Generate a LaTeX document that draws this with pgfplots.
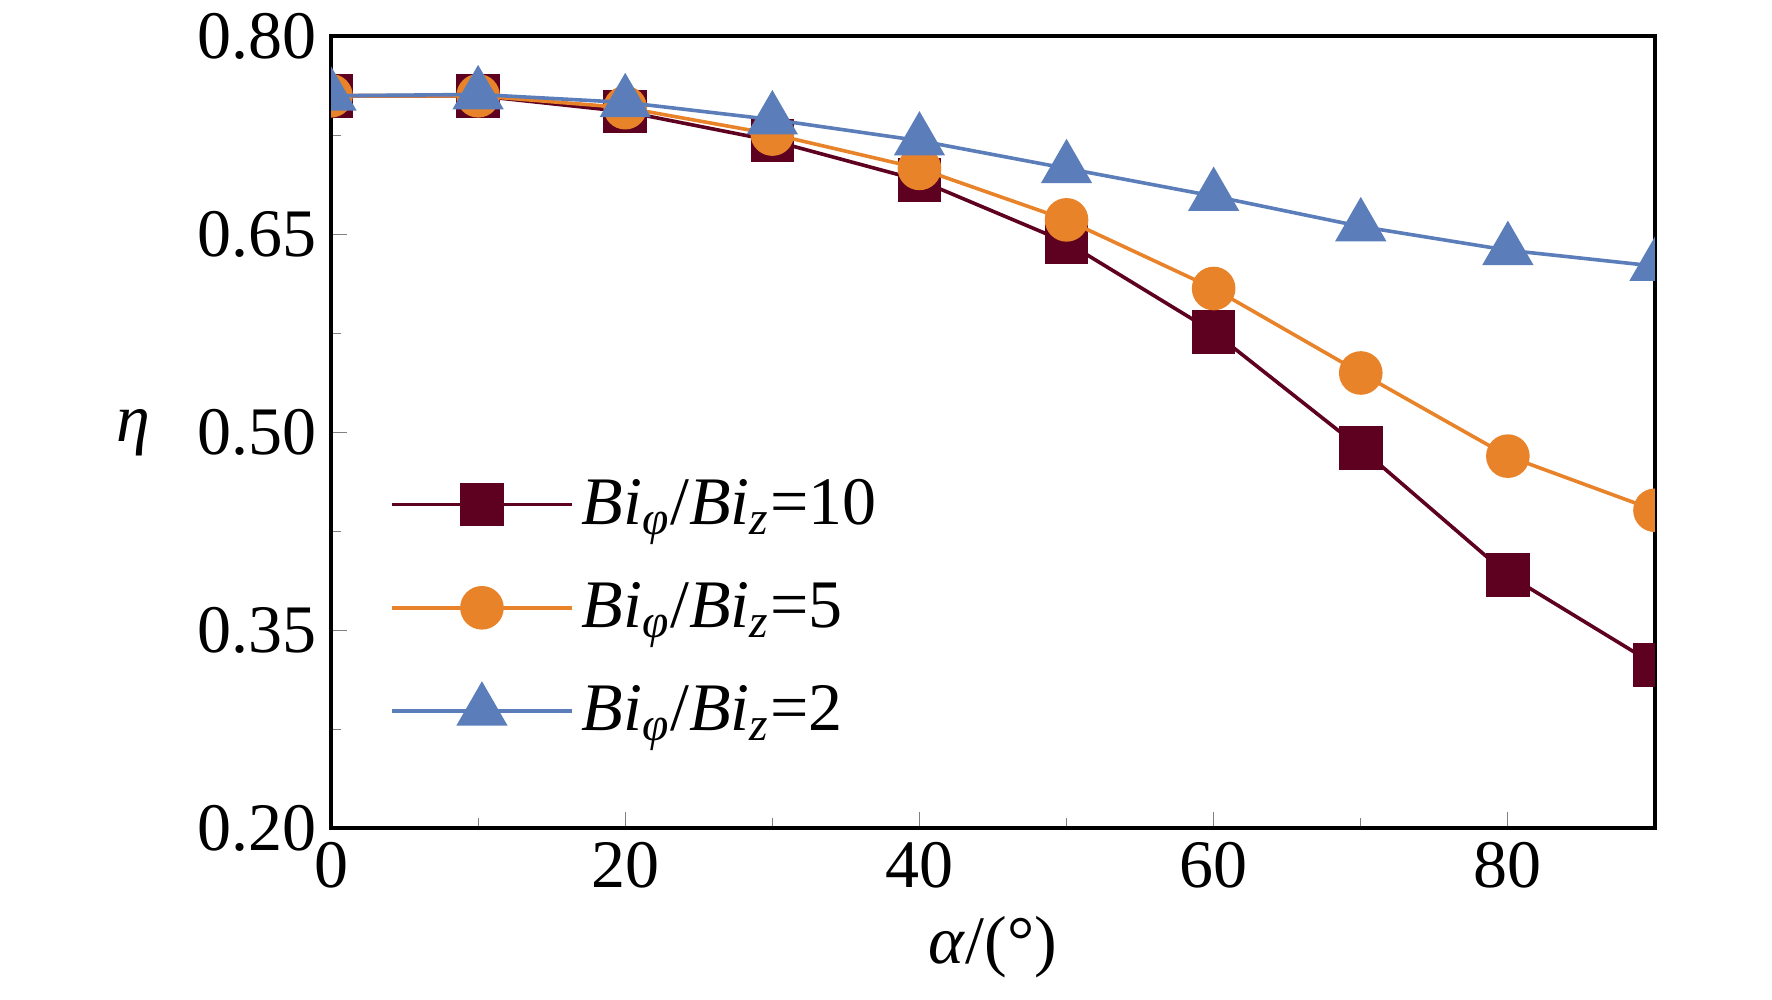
\documentclass[border=0pt]{standalone}
\usepackage{pgfplots}
\pgfplotsset{compat=1.18}
\usepackage{fontspec}
\setmainfont{Liberation Serif}
\definecolor{c1}{HTML}{5E0020}
\definecolor{c2}{HTML}{E8832A}
\definecolor{c3}{HTML}{5B7DBA}
\newcommand{\lab}[1]{\textit{Bi}\textsubscript{\textit{φ}}/\textit{Bi}\textsubscript{\textit{z}}=#1}
\begin{document}
\begin{tikzpicture}
\path (-82.75pt,-42.75pt) rectangle (360.25pt,206.75pt);
\begin{axis}[at={(0,0)},anchor=south west,
  width=331pt,height=198pt,scale only axis,
  xmin=0,xmax=90,ymin=0.20,ymax=0.80,
  xtick={0,20,40,60,80},minor xtick={10,30,50,70},
  ytick={0.20,0.35,0.50,0.65,0.80},minor ytick={0.275,0.425,0.575,0.725},
  yticklabel style={/pgf/number format/.cd,fixed,fixed zerofill,precision=2},
  tick align=inside,major tick length=4pt,minor tick length=2.5pt,
  xtick pos=bottom,ytick pos=left,
  /pgf/number format/assume math mode=true,
  tick label style={font=\fontsize{17}{19}\selectfont},
  label style={font=\fontsize{17}{19}\selectfont},
  xlabel={\textit{α}/(°)},ylabel={\textit{η}},
  ylabel style={rotate=-90,xshift=-5pt},
  axis line style={line width=1pt},
  clip marker paths=true,
  every axis plot/.append style={line width=0.9pt},
  legend style={at={(0.035,0.095)},anchor=south west,draw=none,fill=none,font=\fontsize{17}{20}\selectfont,row sep=9pt},
  legend image code/.code={\draw[#1,mark=none] (0pt,0pt) -- (45pt,0pt); \path[#1,line width=0.9pt] plot coordinates {(22.5pt,0pt)};},
  legend cell align=left,
]
\addplot[c1,mark=square*,mark size=5pt] coordinates {(0,0.755)(10,0.755)(20,0.743)(30,0.721)(40,0.691)(50,0.644)(60,0.576)(70,0.488)(80,0.392)(90,0.324)};
\addlegendentry{\lab{10}}
\addplot[c2,mark=*,mark size=5pt] coordinates {(0,0.755)(10,0.755)(20,0.746)(30,0.726)(40,0.700)(50,0.661)(60,0.609)(70,0.545)(80,0.482)(90,0.441)};
\addlegendentry{\lab{5}}
\addplot[c3,mark=triangle*,mark size=6.5pt] coordinates {(0,0.755)(10,0.756)(20,0.750)(30,0.737)(40,0.721)(50,0.700)(60,0.679)(70,0.656)(80,0.638)(90,0.626)};
\addlegendentry{\lab{2}}
\end{axis}
\end{tikzpicture}
\end{document}
